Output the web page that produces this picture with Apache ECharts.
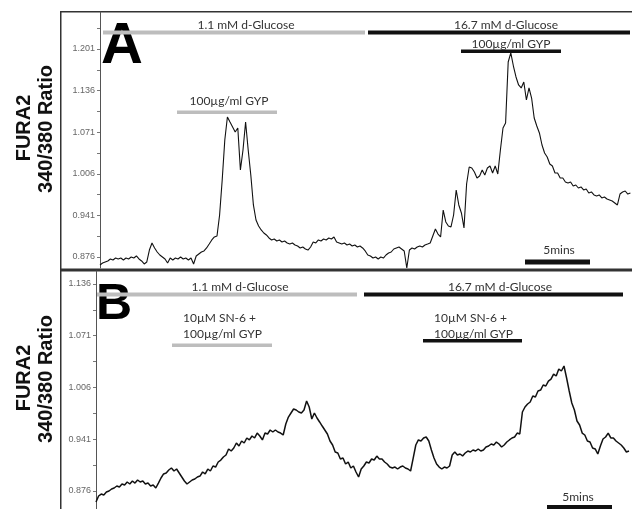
<!DOCTYPE html>
<html><head><meta charset="utf-8">
<script src="https://cdn.jsdelivr.net/npm/echarts@6/dist/echarts.min.js"></script>
<style>html,body{margin:0;padding:0;background:#fff}#c{width:632px;height:509px}</style>
</head><body><div id="c"></div>
<script>
// sampling interval of both recordings, minutes
const sampleMinutes = 0.2;

// y-axis tick labels (FURA2 340/380 ratio)
const tickLabelsA = [0.876, 0.941, 1.006, 1.071, 1.136, 1.201];
const tickMarksA = [0.876, 0.9085, 0.941, 0.9735, 1.006, 1.0385, 1.071, 1.1035, 1.136, 1.1685, 1.201, 1.2335];
const tickLabelsB = [0.876, 0.941, 1.006, 1.071, 1.136];
const tickMarksB = [0.876, 0.9085, 0.941, 0.9735, 1.006, 1.0385, 1.071, 1.1035, 1.136];

// Panel A: GYP alone, 1.1 then 16.7 mM glucose
const ratioA = [
0.8635,0.8666,0.8682,0.8698,0.8729,0.8713,0.8744,0.8729,0.8744,0.8713,
0.8744,0.8729,0.876,0.8744,0.8776,0.8729,0.8698,0.8651,0.8682,0.8869,
0.8979,0.8901,0.8838,0.8791,0.876,0.8729,0.8666,0.8744,0.8713,0.8744,
0.8729,0.876,0.8729,0.8744,0.8713,0.8744,0.8651,0.8776,0.8807,0.8838,
0.8854,0.8901,0.8963,0.9026,0.9073,0.9088,0.9416,0.9963,1.0588,1.0948,
1.0869,1.0791,1.0713,1.0776,1.0119,1.0432,1.0869,1.0432,1.0041,0.9573,
0.9338,0.9244,0.9182,0.9135,0.9104,0.9057,0.9026,0.9041,0.901,0.9026,
0.8994,0.901,0.8979,0.8963,0.8979,0.8948,0.8932,0.8901,0.8916,0.8885,
0.8869,0.8916,0.8994,0.8979,0.9026,0.901,0.9041,0.9026,0.9057,0.9041,
0.9073,0.8994,0.8979,0.8963,0.8979,0.8948,0.8963,0.8932,0.8948,0.8916,
0.8932,0.8901,0.8854,0.8791,0.8776,0.8744,0.876,0.8729,0.876,0.8744,
0.8791,0.8823,0.8838,0.8885,0.8901,0.8916,0.8885,0.8854,0.8588,0.8869,
0.8901,0.8885,0.8916,0.8932,0.8916,0.8948,0.8963,0.8979,0.9088,0.9198,
0.9119,0.9073,0.9494,0.9307,0.9244,0.9229,0.9416,0.9807,0.9573,0.9448,
0.9213,0.9901,1.0166,1.0151,1.0088,0.9994,1.0026,1.0119,1.0041,1.0151,
1.0182,1.0073,1.0182,1.0057,1.0432,1.0776,1.0854,1.1807,1.1948,1.1744,
1.1573,1.1448,1.1401,1.1494,1.1213,1.1401,1.1244,1.0932,1.0807,1.0698,
1.051,1.0385,1.0323,1.0213,1.0182,1.0073,1.0073,0.9994,0.9994,0.9932,
0.9916,0.9932,0.9869,0.9885,0.9838,0.9854,0.9807,0.9823,0.976,0.9776,
0.9729,0.9713,0.9729,0.9682,0.9698,0.9666,0.9651,0.9635,0.9604,0.9573,
0.9744,0.9776,0.9791,0.9744,0.976
];

// Panel B: SN-6 + GYP, 1.1 then 16.7 mM glucose
const ratioB = [
0.8622,0.8697,0.8722,0.871,0.8747,0.876,0.8785,0.8798,0.8823,0.881,
0.8848,0.8835,0.8873,0.8848,0.8886,0.886,0.8898,0.8873,0.8886,0.8848,
0.886,0.8823,0.8835,0.8798,0.886,0.8923,0.8974,0.8986,0.9024,0.9049,
0.9011,0.9036,0.8986,0.8936,0.8886,0.8848,0.8873,0.8898,0.8911,0.8936,
0.8948,0.8999,0.8974,0.9036,0.9011,0.9074,0.9061,0.9124,0.9149,0.9187,
0.9212,0.9288,0.9262,0.93,0.9363,0.9325,0.9388,0.9363,0.9426,0.9401,
0.9451,0.9426,0.9488,0.9451,0.9401,0.9488,0.9476,0.9526,0.9501,0.9526,
0.9501,0.9488,0.9463,0.9602,0.9689,0.974,0.979,0.9777,0.9752,0.974,
0.9777,0.989,0.9815,0.9664,0.974,0.9677,0.9627,0.9576,0.9526,0.9476,
0.9388,0.9338,0.925,0.9237,0.9162,0.9174,0.9099,0.9124,0.9049,0.9074,
0.8999,0.8936,0.9036,0.9074,0.9124,0.9112,0.9162,0.9149,0.9199,0.9162,
0.9162,0.9124,0.9099,0.9061,0.9049,0.9061,0.9036,0.9061,0.9074,0.9049,
0.9036,0.9011,0.9174,0.9338,0.9401,0.9388,0.9426,0.9438,0.9388,0.9275,
0.9174,0.9099,0.9061,0.9036,0.9061,0.9049,0.9074,0.9212,0.925,0.9212,
0.9225,0.92,0.9237,0.9262,0.925,0.9275,0.9262,0.9288,0.9262,0.9275,
0.9313,0.9325,0.935,0.9338,0.9375,0.935,0.9313,0.9338,0.9375,0.9401,
0.9426,0.9438,0.9488,0.9476,0.9752,0.9815,0.9853,0.9878,0.9953,0.9941,
1.0016,1.0028,1.0091,1.0079,1.0141,1.0166,1.0229,1.0204,1.0292,1.0267,
1.033,1.0179,1.0016,0.9865,0.9777,0.9639,0.9589,0.9488,0.9463,0.9388,
0.9375,0.93,0.9288,0.9225,0.9325,0.9413,0.9438,0.9488,0.9426,0.9426,
0.9388,0.9363,0.9338,0.93,0.925,0.9262
];

const toPairs = arr => arr.map((v, i) => [+(i * sampleMinutes).toFixed(2), v]);

const chart = echarts.init(document.getElementById('c'), null, {renderer: 'canvas'});
const annFont = '12px Lato';
const annColor = '#333';
function txt(text, x, y, align) {
  return {type: 'text', x: x, y: y, silent: true,
    style: {text: text, fill: annColor, font: annFont, align: align || 'center', verticalAlign: 'middle'}};
}
function bar(x, y, w, h, fill) {
  return {type: 'rect', silent: true, shape: {x: x, y: y, width: w, height: h}, style: {fill: fill}};
}
function vtxt(text, x, y) {
  return {type: 'text', x: x, y: y, rotation: Math.PI / 2, silent: true,
    style: {text: text, fill: '#111', font: 'bold 20px "Liberation Sans"', align: 'center', verticalAlign: 'middle'}};
}
const gray = '#bdbdbd', black = '#111';

function yAxis(grid, min, max, labels, marks) {
  return {
    gridIndex: grid, type: 'value', min: min, max: max,
    axisLine: {show: true, onZero: false, lineStyle: {color: '#555', width: 1}},
    axisTick: {show: true, customValues: marks, length: 3, lineStyle: {color: '#777'}},
    axisLabel: {customValues: labels, formatter: v => v.toFixed(3), fontSize: 9,
      color: '#666', margin: 5, fontFamily: 'Liberation Sans'},
    splitLine: {show: false}
  };
}

chart.setOption({
  animation: false,
  backgroundColor: '#fff',
  grid: [
    {left: 100, top: 12, width: 530.4, height: 256},
    {left: 96, top: 271, width: 533, height: 238}
  ],
  xAxis: [
    {gridIndex: 0, type: 'value', min: 0, max: 40.8, show: false},
    {gridIndex: 1, type: 'value', min: 0, max: 41, show: false}
  ],
  yAxis: [
    yAxis(0, 0.8588, 1.2588, tickLabelsA, tickMarksA),
    yAxis(1, 0.8534, 1.1523, tickLabelsB, tickMarksB)
  ],
  series: [
    {type: 'line', xAxisIndex: 0, yAxisIndex: 0, data: toPairs(ratioA), showSymbol: false,
      lineStyle: {color: '#111', width: 1.1}, sampling: null, z: 3},
    {type: 'line', xAxisIndex: 1, yAxisIndex: 1, data: toPairs(ratioB), showSymbol: false,
      lineStyle: {color: '#111', width: 1.5}, sampling: null, z: 3}
  ],
  graphic: [
    // frame
    bar(60, 11, 572, 1.5, '#333'),
    bar(60, 11, 1.5, 498, '#333'),
    bar(60, 268.5, 572, 3, '#333'),
    // panel letters
    {type: 'text', x: 101, y: 47, silent: true, style: {text: 'A', fill: '#000', font: 'bold 58px "Liberation Sans"', align: 'left', verticalAlign: 'middle'}},
    {type: 'text', x: 96, y: 305, silent: true, style: {text: 'B', fill: '#000', font: 'bold 50px "Liberation Sans"', align: 'left', verticalAlign: 'middle'}},
    // axis titles
    vtxt('FURA2', 24, 128), vtxt('340/380 Ratio', 46, 129),
    vtxt('FURA2', 24, 378), vtxt('340/380 Ratio', 46, 379),
    // panel A annotations
    bar(103, 30.5, 262, 4, gray), txt('1.1 mM d-Glucose', 246, 25),
    bar(368, 30.5, 262, 4, black), txt('16.7 mM d-Glucose', 506, 25),
    bar(177, 110.5, 100, 3.5, gray), txt('100µg/ml GYP', 229, 101),
    bar(461, 49.5, 100, 3.5, black), txt('100µg/ml GYP', 511, 44),
    bar(525, 259.5, 65, 5, black), txt('5mins', 559, 250),
    // panel B annotations
    bar(96, 292.5, 261, 4, gray), txt('1.1 mM d-Glucose', 240, 287),
    bar(364, 292.5, 259, 4, black), txt('16.7 mM d-Glucose', 500, 287),
    txt('10µM SN-6 +', 183, 318, 'left'), txt('100µg/ml GYP', 183, 334, 'left'),
    bar(172, 343.5, 100, 3.5, gray),
    txt('10µM SN-6 +', 434, 318, 'left'), txt('100µg/ml GYP', 434, 334, 'left'),
    bar(423, 339, 99, 3.5, black),
    bar(547, 505, 65, 5, black), txt('5mins', 578, 497)
  ]
});
</script>
</body></html>
